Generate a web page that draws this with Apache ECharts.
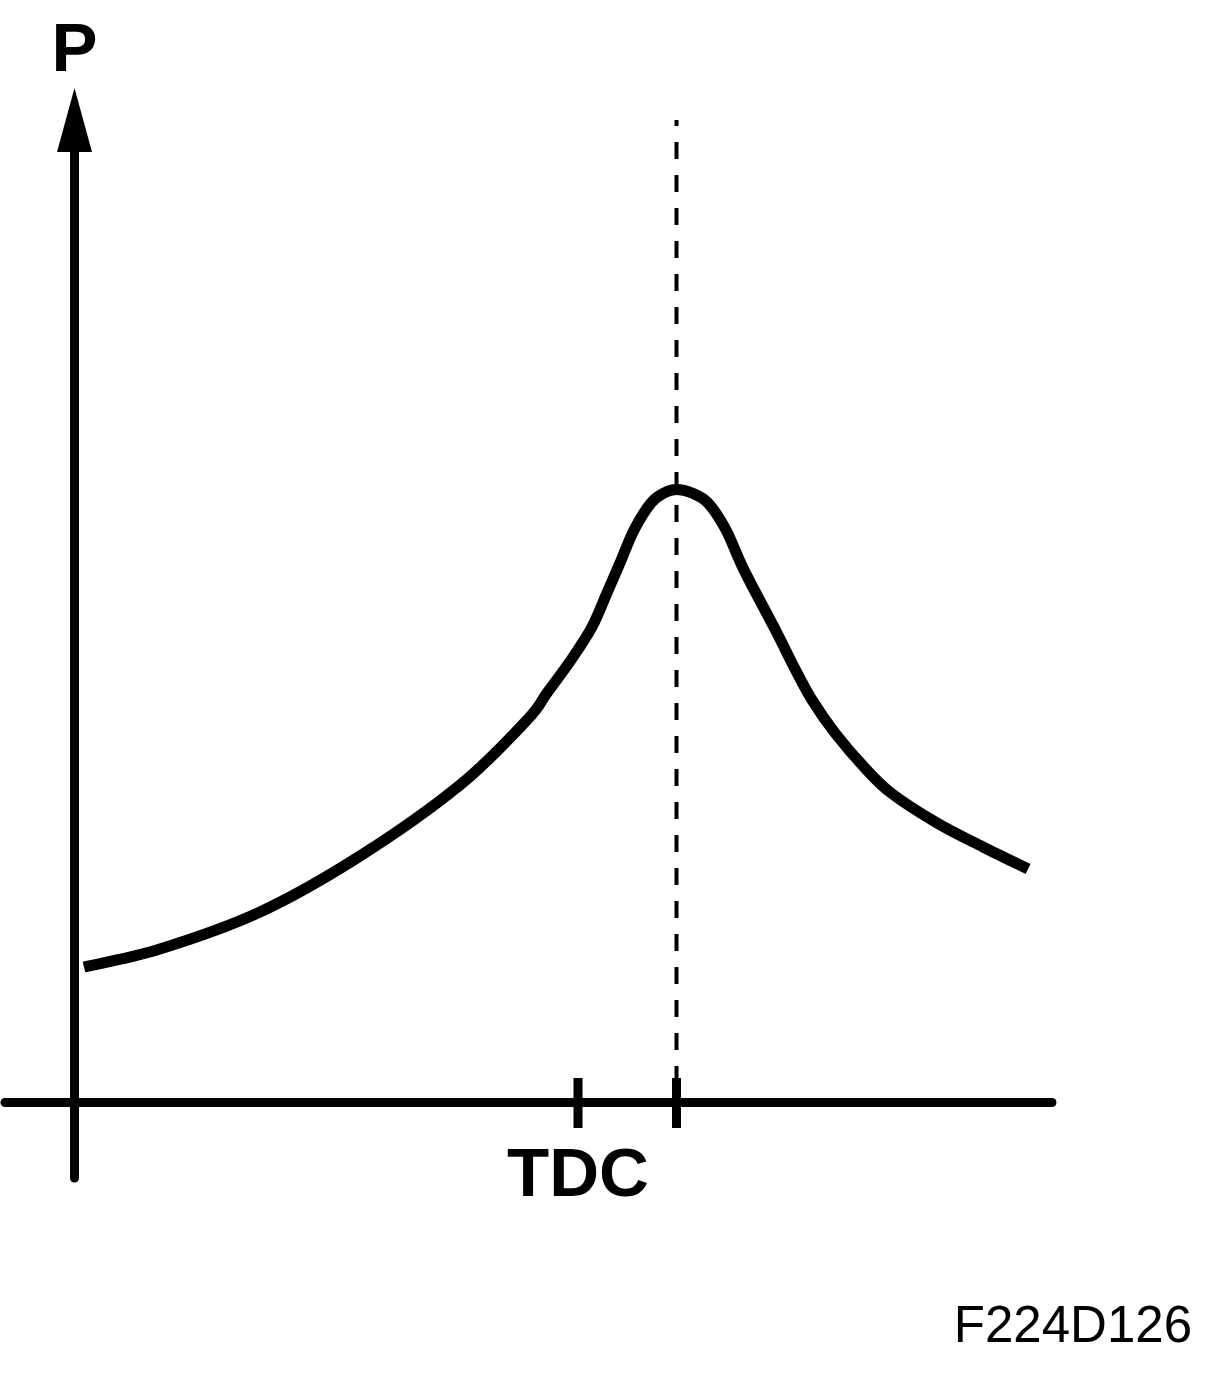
<!DOCTYPE html>
<html>
<head>
<meta charset="utf-8">
<script src="https://cdn.jsdelivr.net/npm/echarts@6/dist/echarts.min.js"></script>
<style>
html,body{margin:0;padding:0;background:#fff;}
#chart{width:1216px;height:1374px;}
</style>
</head>
<body>
<div id="chart"></div>
<script>
// Crank angle (deg, TDC = 0) and cylinder pressure (arbitrary units)
var angle = [-50.15, -42.44, -32.28, -22.13, -11.98, -5.18, -3.15, -0.71, 1.42, 2.94, 4.26, 5.69, 7.41, 8.73, 10.0, 11.57, 13.20, 15.03, 16.85, 20.20, 21.93, 23.76, 26.09, 29.04, 31.78, 36.45, 41.12, 45.69];
var pressure = [13.55, 15.35, 19.05, 24.65, 31.75, 38.25, 40.95, 44.25, 47.55, 50.95, 53.95, 57.25, 59.95, 60.95, 61.3, 60.95, 59.95, 57.25, 53.25, 46.95, 43.55, 40.25, 36.95, 33.55, 30.95, 27.95, 25.55, 23.35];
var tdcAngle = 0;
var peakAngle = 10;
var xLabel = 'TDC';
var yLabel = 'P';
var figureId = 'F224D126';

var curve = angle.map(function (a, i) { return [a, pressure[i]]; });

// Smooth curve through the data points (Catmull-Rom), placed with the chart's own scales.
function renderCurve(params, api) {
  if (params.dataIndex !== 0) return null;
  var pts = curve.map(function (p) { return api.coord(p); });
  var n = pts.length;
  var d = 'M' + pts[0][0] + ' ' + pts[0][1];
  for (var i = 0; i < n - 1; i++) {
    var p0 = pts[Math.max(i - 1, 0)], p1 = pts[i], p2 = pts[i + 1], p3 = pts[Math.min(i + 2, n - 1)];
    var c1x = p1[0] + (p2[0] - p0[0]) / 6, c1y = p1[1] + (p2[1] - p0[1]) / 6;
    var c2x = p2[0] - (p3[0] - p1[0]) / 6, c2y = p2[1] - (p3[1] - p1[1]) / 6;
    d += ' C' + c1x + ' ' + c1y + ' ' + c2x + ' ' + c2y + ' ' + p2[0] + ' ' + p2[1];
  }
  return {
    type: 'path',
    shape: {pathData: d},
    style: {fill: null, stroke: '#000', lineWidth: 11, lineCap: 'butt', lineJoin: 'round'}
  };
}

var chart = echarts.init(document.getElementById('chart'), null, {renderer: 'canvas'});
chart.setOption({
  backgroundColor: '#ffffff',
  animation: false,
  grid: {left: 5, right: 164, top: 120, bottom: 196, containLabel: false},
  xAxis: {
    type: 'value', min: -58.17, max: 48.12,
    axisLine: {show: true, onZero: true, lineStyle: {color: '#000', width: 9}},
    axisTick: {show: false},
    splitLine: {show: false},
    axisLabel: {
      show: true, customValues: [tdcAngle], margin: -36,
      formatter: function () { return xLabel; },
      color: '#000', fontFamily: 'Liberation Sans', fontWeight: 'bold', fontSize: 69
    }
  },
  yAxis: {
    type: 'value', min: -7.55, max: 98.25,
    position: 'left', offset: -69.5,
    axisLine: {show: true, onZero: false, symbol: ['none', 'triangle'], symbolSize: [35, 64], lineStyle: {color: '#000', width: 9}},
    axisTick: {show: false},
    axisLabel: {show: false},
    splitLine: {show: false},
    name: yLabel, nameLocation: 'end', nameGap: 34,
    nameTextStyle: {color: '#000', fontFamily: 'Liberation Sans', fontWeight: 'bold', fontSize: 69}
  },
  graphic: [{
    type: 'text', right: 24, top: 1302,
    style: {text: figureId, fill: '#000', font: '51px "Liberation Sans"'}
  }],
  series: [
    {
      type: 'custom', data: curve, renderItem: renderCurve, z: 3
    },
    {
      type: 'line', data: [[peakAngle, 98.25], [peakAngle, -2.5]], symbol: 'none',
      lineStyle: {color: '#000', width: 4, type: [17, 16], dashOffset: 11}, z: 2
    },
    {
      type: 'line', data: [[tdcAngle, 2.45], [tdcAngle, -2.55]], symbol: 'none',
      lineStyle: {color: '#000', width: 9}, z: 2
    },
    {
      type: 'line', data: [[peakAngle, 2.45], [peakAngle, -2.55]], symbol: 'none',
      lineStyle: {color: '#000', width: 9}, z: 2
    }
  ]
});
</script>
</body>
</html>
